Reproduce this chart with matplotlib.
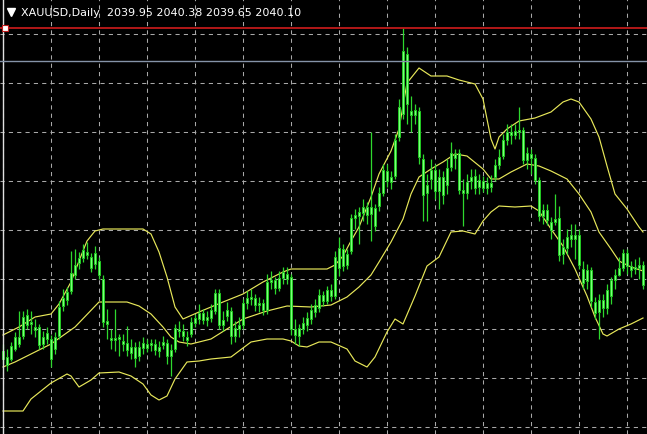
# XAUUSD daily candles with Bollinger bands, MT4 style (black chart)
import matplotlib
matplotlib.use("Agg")
import matplotlib.pyplot as plt
import numpy as np

# ---- data ----
opens = [1742, 1744, 1742, 1752, 1764, 1765, 1786, 1777, 1774, 1774, 1757, 1762, 1762, 1752, 1765, 1795,
         1801, 1810, 1826, 1838, 1843, 1849, 1844, 1837, 1840, 1822, 1780, 1763, 1761, 1764, 1760, 1758,
         1748, 1754, 1745, 1753, 1757, 1756, 1757, 1750, 1756, 1758, 1745, 1752, 1772, 1770, 1764, 1767,
         1778, 1782, 1788, 1781, 1783, 1790, 1808, 1776, 1785, 1790, 1765, 1772, 1776, 1798, 1802, 1803,
         1796, 1798, 1791, 1819, 1821, 1813, 1823, 1827, 1824, 1772, 1765, 1772, 1776, 1782, 1789, 1793,
         1806, 1800, 1811, 1805, 1833, 1852, 1836, 1850, 1883, 1885, 1888, 1894, 1887, 1893, 1895, 1908,
         1930, 1919, 1925, 1964, 1987, 2047, 1990, 1986, 1990, 1942, 1908, 1922, 1931, 1910, 1924, 1916,
         1934, 1947, 1948, 1911, 1908, 1920, 1925, 1914, 1920, 1913, 1918, 1924, 1936, 1945, 1961, 1969,
         1966, 1969, 1971, 1941, 1947, 1943, 1921, 1885, 1891, 1879, 1879, 1883, 1847, 1853, 1866, 1862,
         1866, 1832, 1820, 1831, 1799, 1789, 1801, 1793, 1805, 1821, 1826, 1833, 1848, 1835, 1832, 1833,
         1836]
highs = [1757, 1752, 1759, 1769, 1790, 1790, 1792, 1790, 1782, 1777, 1770, 1774, 1766, 1769, 1800, 1812,
         1814, 1850, 1852, 1849, 1857, 1859, 1848, 1855, 1844, 1826, 1792, 1772, 1792, 1767, 1767, 1775,
         1762, 1759, 1760, 1764, 1762, 1762, 1762, 1760, 1765, 1762, 1757, 1777, 1780, 1777, 1770, 1784,
         1787, 1797, 1792, 1790, 1797, 1812, 1812, 1790, 1799, 1794, 1780, 1784, 1802, 1810, 1812, 1807,
         1804, 1802, 1827, 1830, 1824, 1830, 1834, 1834, 1827, 1782, 1777, 1784, 1789, 1797, 1802, 1812,
         1810, 1815, 1817, 1850, 1864, 1857, 1852, 1887, 1892, 1894, 1902, 1899, 1969, 1897, 1914, 1937,
         1937, 1930, 1967, 2002, 2073, 2054, 2005, 1997, 1994, 1947, 1927, 1942, 1937, 1932, 1930, 1942,
         1959, 1952, 1952, 1922, 1927, 1932, 1932, 1927, 1925, 1924, 1926, 1942, 1952, 1967, 1977, 1977,
         1977, 1994, 1974, 1954, 1952, 1947, 1924, 1897, 1897, 1884, 1907, 1895, 1862, 1872, 1877, 1877,
         1872, 1840, 1837, 1834, 1804, 1807, 1807, 1817, 1824, 1832, 1844, 1852, 1852, 1840, 1842, 1844,
         1840]
lows = [1737, 1730, 1740, 1750, 1754, 1762, 1772, 1767, 1764, 1752, 1752, 1757, 1734, 1747, 1762, 1790,
        1796, 1807, 1822, 1832, 1839, 1842, 1829, 1832, 1822, 1774, 1762, 1752, 1750, 1745, 1750, 1745,
        1742, 1734, 1740, 1747, 1749, 1750, 1746, 1744, 1752, 1737, 1725, 1749, 1764, 1760, 1755, 1764,
        1774, 1777, 1777, 1775, 1779, 1787, 1772, 1770, 1780, 1757, 1759, 1764, 1772, 1792, 1796, 1790,
        1789, 1786, 1787, 1812, 1807, 1810, 1817, 1817, 1766, 1757, 1755, 1767, 1770, 1777, 1784, 1789,
        1795, 1797, 1800, 1802, 1825, 1830, 1832, 1847, 1872, 1857, 1880, 1877, 1860, 1870, 1890, 1905,
        1914, 1912, 1922, 1960, 1982, 1977, 1969, 1977, 1937, 1880, 1880, 1912, 1902, 1892, 1897, 1907,
        1930, 1932, 1907, 1875, 1902, 1912, 1907, 1907, 1909, 1907, 1909, 1920, 1932, 1942, 1956, 1957,
        1962, 1962, 1937, 1932, 1927, 1917, 1880, 1877, 1876, 1862, 1876, 1840, 1837, 1847, 1854, 1842,
        1832, 1812, 1812, 1794, 1782, 1762, 1784, 1787, 1797, 1812, 1825, 1830, 1827, 1824, 1827, 1822,
        1812]
closes = [1750, 1736, 1755, 1764, 1757, 1784, 1776, 1779, 1771, 1756, 1764, 1768, 1742, 1764, 1794, 1803,
          1809, 1828, 1836, 1843, 1851, 1846, 1833, 1848, 1826, 1779, 1777, 1761, 1763, 1762, 1757, 1751,
          1754, 1743, 1754, 1758, 1753, 1758, 1751, 1754, 1759, 1745, 1751, 1773, 1770, 1765, 1761, 1779,
          1783, 1788, 1781, 1784, 1791, 1808, 1776, 1781, 1791, 1765, 1773, 1776, 1798, 1803, 1804, 1796,
          1798, 1791, 1819, 1821, 1813, 1823, 1829, 1822, 1772, 1766, 1773, 1778, 1783, 1791, 1796, 1806,
          1800, 1811, 1805, 1844, 1853, 1835, 1847, 1883, 1886, 1889, 1894, 1886, 1894, 1875, 1908, 1931,
          1920, 1924, 1961, 1994, 2050, 1997, 1986, 1991, 1944, 1906, 1916, 1931, 1910, 1924, 1906, 1933,
          1948, 1943, 1911, 1908, 1919, 1924, 1913, 1921, 1913, 1918, 1914, 1936, 1944, 1961, 1969, 1966,
          1970, 1971, 1941, 1948, 1943, 1921, 1885, 1891, 1881, 1871, 1882, 1846, 1854, 1864, 1862, 1866,
          1836, 1818, 1831, 1800, 1788, 1801, 1793, 1811, 1821, 1826, 1833, 1848, 1835, 1831, 1834, 1836,
          1816]

# Bollinger bands (bar index, price)
upper_idx = [0, 4, 8, 12, 14, 17, 19, 21, 23, 25, 30, 35, 37, 39, 41, 43, 45, 49, 55, 60, 65, 70, 72,
             81, 83, 85, 87, 89, 92, 94, 97, 99, 101, 104, 107, 111, 114, 118, 120, 122, 123, 124, 126,
             129, 133, 137, 140, 142, 144, 147, 149, 151, 153, 156, 159, 160]
upper_val = [1766, 1774, 1784, 1787, 1797, 1819, 1840, 1860, 1870, 1872, 1872, 1872, 1867, 1849, 1824,
             1794, 1782, 1789, 1799, 1807, 1819, 1829, 1832, 1832, 1836, 1845, 1860, 1874, 1904, 1927,
             1950, 1972, 2018, 2033, 2025, 2025, 2021, 2017, 2002, 1962, 1952, 1964, 1972, 1980, 1983,
             1989, 1999, 2002, 1999, 1982, 1964, 1935, 1907, 1892, 1874, 1869]
mid_idx = [0, 3, 12, 18, 24, 31, 34, 37, 40, 42, 44, 47, 52, 60, 66, 71, 77, 82, 86, 89, 92, 94, 97,
           100, 102, 104, 107, 110, 113, 116, 120, 122, 124, 127, 131, 134, 137, 141, 144, 147, 149,
           152, 154, 157, 160]
mid_val = [1734, 1739, 1757, 1774, 1799, 1799, 1795, 1787, 1774, 1764, 1759, 1757, 1762, 1782, 1790,
           1795, 1794, 1796, 1804, 1814, 1826, 1839, 1859, 1882, 1907, 1924, 1932, 1939, 1947, 1945,
           1932, 1922, 1922, 1929, 1937, 1935, 1930, 1922, 1907, 1889, 1869, 1852, 1840, 1834, 1830]
lower_idx = [0, 5, 7, 12, 16, 17, 19, 22, 24, 29, 32, 35, 37, 39, 41, 43, 46, 49, 52, 57, 62, 66, 70,
             72, 74, 76, 79, 82, 86, 88, 91, 93, 96, 98, 100, 103, 106, 109, 112, 115, 118, 120, 122,
             124, 128, 132, 134, 137, 140, 143, 146, 148, 150, 151, 154, 157, 160]
lower_val = [1690, 1690, 1702, 1718, 1727, 1725, 1714, 1721, 1728, 1729, 1725, 1717, 1706, 1701, 1705,
             1722, 1739, 1740, 1742, 1744, 1759, 1762, 1762, 1760, 1755, 1754, 1759, 1759, 1752, 1740,
             1734, 1744, 1769, 1782, 1777, 1805, 1835, 1844, 1869, 1870, 1867, 1880, 1889, 1895, 1894,
             1895, 1890, 1872, 1855, 1832, 1805, 1784, 1767, 1765, 1772, 1777, 1783]

red_level = 2073
bid_level = 2040.10
grid_prices = [2067, 2018, 1969, 1920, 1871, 1822, 1772, 1723, 1674]
grid_bars = list(range(0, 157, 12))
title = "XAUUSD,Daily  2039.95 2040.38 2039.65 2040.10"

# ---- drawing ----
fig = plt.figure(figsize=(6.47, 4.35), dpi=100, facecolor="black")
ax = fig.add_axes([0, 0, 1, 1], facecolor="black")
ax.set_xlim(-0.75, 161.0)
ax.set_ylim(1667, 2102)
for s in ax.spines.values():
    s.set_visible(False)
ax.set_xticks([])
ax.set_yticks([])

for g in grid_prices:
    ax.axhline(g, color="#a8a8a8", lw=0.75, ls=(0, (4, 4)), zorder=1)
for g in grid_bars:
    ax.axvline(g, color="#a8a8a8", lw=0.75, ls=(0, (4, 4)), zorder=1)

# left edge line
ax.axvline(-0.05, color="#e0e0e0", lw=1.0, zorder=5)

# bollinger bands
band_col = "#e8e85a"
ax.plot(upper_idx, upper_val, color=band_col, lw=0.85, zorder=2)
ax.plot(mid_idx, mid_val, color=band_col, lw=0.85, zorder=2)
ax.plot(lower_idx, lower_val, color=band_col, lw=0.85, zorder=2)

# candles
x = np.arange(len(opens))
o = np.array(opens)
c = np.array(closes)
ax.vlines(x, lows, highs, color="#2ed82e", lw=0.9, zorder=3)
bottom = np.minimum(o, c)
height = np.maximum(np.abs(c - o), 1)
ax.bar(x, height, bottom=bottom, width=0.62, color="#7dff7d", edgecolor="#22c822",
       linewidth=0.7, zorder=4)

# horizontal lines
ax.axhline(bid_level, color="#8593a8", lw=1.0, zorder=6)
ax.axhline(red_level, color="#c01a1a", lw=1.3, zorder=6)
ax.plot([0.5], [red_level], marker="s", ms=4, mfc="white", mec="#c01a1a", mew=0.8, zorder=7)

# header text
ax.plot([2.0], [2089], marker="v", ms=5.5, color="white", zorder=8)
ax.text(4.5, 2089, title, color="white", fontsize=8, va="center", ha="left",
        family="DejaVu Sans", zorder=8)

fig.savefig("out.png", dpi=100, facecolor="black")
